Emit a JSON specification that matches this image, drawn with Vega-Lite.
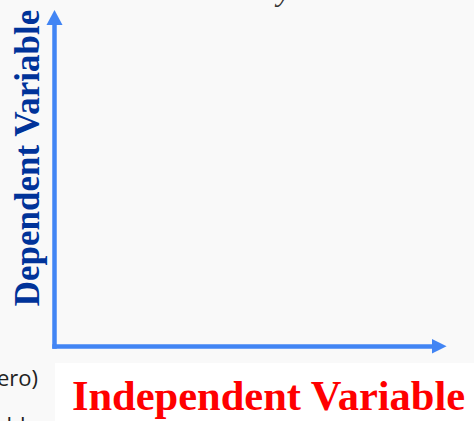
{
  "$schema": "https://vega.github.io/schema/vega-lite/v6.json",
  "width": 474,
  "height": 421,
  "autosize": {"type": "fit", "contains": "padding"},
  "padding": 0,
  "background": "#f9f9f9",
  "config": {"view": {"stroke": null}},
  "datasets": {
    "panel": [{"x": 55, "x2": 474, "y": 363, "y2": 421}],
    "axes": [
      {"name": "vertical", "x": 54.5, "x2": 54.5, "y": 24, "y2": 348.7},
      {"name": "horizontal", "x": 52.3, "x2": 433, "y": 346.5, "y2": 346.5}
    ],
    "up": [{"x": 54.5, "y": 17.5}],
    "right": [{"x": 439.3, "y": 346.3}],
    "ylab": [{"x": 39, "y": 158, "label": "Dependent Variable"}],
    "xlab": [{"x": 268.5, "y": 410, "label": "Independent Variable"}],
    "side": [{"x": 38, "y": 386, "label": "(non-zero)"}, {"x": 38, "y": 433, "label": "variable"}],
    "top": [{"x": 284, "y": 0.5, "label": "y"}]
  },
  "encoding": {
    "x": {"field": "x", "type": "quantitative", "scale": {"domain": [0, 474], "nice": false, "zero": false}, "axis": null},
    "y": {"field": "y", "type": "quantitative", "scale": {"domain": [0, 421], "nice": false, "zero": false, "reverse": true}, "axis": null}
  },
  "layer": [
    {
      "data": {"name": "panel"},
      "mark": {"type": "rect", "color": "#ffffff"},
      "encoding": {"x2": {"field": "x2"}, "y2": {"field": "y2"}}
    },
    {
      "data": {"name": "axes"},
      "mark": {"type": "rule", "color": "#4285f4", "strokeWidth": 4.5, "strokeCap": "butt"},
      "encoding": {"x2": {"field": "x2"}, "y2": {"field": "y2"}}
    },
    {
      "data": {"name": "up"},
      "mark": {"type": "point", "shape": "M0,-1L1.07,1L-1.07,1Z", "size": 225, "filled": true, "opacity": 1, "color": "#4285f4", "strokeWidth": 0}
    },
    {
      "data": {"name": "right"},
      "mark": {"type": "point", "shape": "M1,0L-1,-1L-1,1Z", "size": 213, "filled": true, "opacity": 1, "color": "#4285f4", "strokeWidth": 0}
    },
    {
      "data": {"name": "ylab"},
      "mark": {"type": "text", "angle": 270, "align": "center", "baseline": "alphabetic", "font": "Liberation Serif", "fontWeight": "bold", "fontSize": 35, "color": "#003399"},
      "encoding": {"text": {"field": "label"}}
    },
    {
      "data": {"name": "xlab"},
      "mark": {"type": "text", "align": "center", "baseline": "alphabetic", "font": "Liberation Serif", "fontWeight": "bold", "fontSize": 42.5, "color": "#ff0000"},
      "encoding": {"text": {"field": "label"}}
    },
    {
      "data": {"name": "side"},
      "mark": {"type": "text", "align": "right", "baseline": "alphabetic", "font": "Open Sans", "fontSize": 22, "color": "#222222", "clip": true},
      "encoding": {"text": {"field": "label"}}
    },
    {
      "data": {"name": "top"},
      "mark": {"type": "text", "align": "center", "baseline": "alphabetic", "font": "Liberation Serif", "fontStyle": "italic", "fontSize": 30, "color": "#333333", "clip": true},
      "encoding": {"text": {"field": "label"}}
    }
  ]
}
